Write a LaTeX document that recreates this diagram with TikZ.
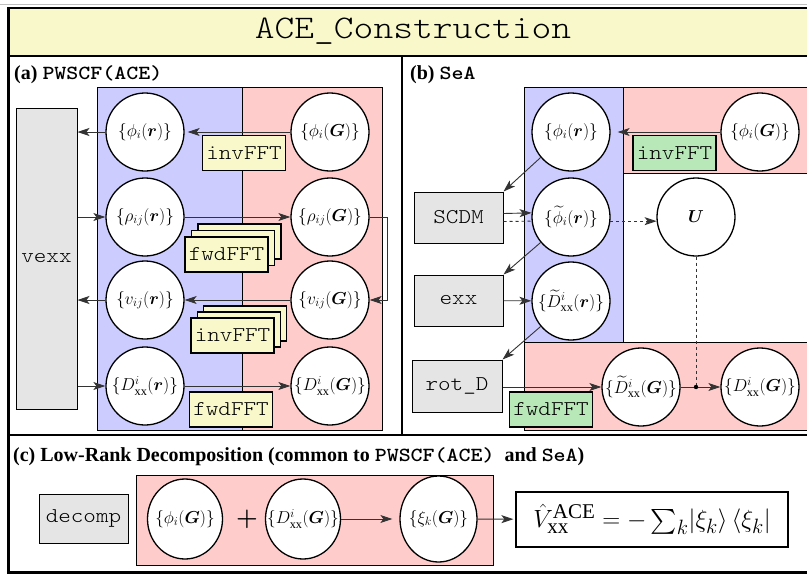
\documentclass[tikz,border=0pt]{standalone}
\usepackage{amsmath,bm}
\usepackage{fontspec}
\setmainfont{Liberation Serif}
\setmonofont{lmmonolt10-regular}[Extension=.otf,FakeStretch=1.14]
\newfontfamily\ttb{lmmonolt10-bold}[Extension=.otf,FakeStretch=1.14]
\usetikzlibrary{arrows.meta,calc,shapes.geometric}
\definecolor{titley}{RGB}{248,248,202}
\definecolor{blueR}{RGB}{204,204,255}
\definecolor{redR}{RGB}{255,204,204}
\definecolor{grayB}{RGB}{229,229,229}
\definecolor{greenB}{RGB}{184,232,184}
\newcommand{\mkz}[1]{\makebox[0pt][c]{#1}}
\newcommand{\tb}[1]{{\ttb #1}}
\begin{document}
\begin{tikzpicture}[x=1pt,y=-1pt,
  frame/.style={line width=2.5pt},
  region/.style={draw=black,line width=1pt},
  circ/.style={circle,draw,fill=white,line width=1.3pt,minimum size=78pt,inner sep=0pt,font=\fontsize{17.5}{20}\selectfont},
  ellc/.style={ellipse,draw,fill=white,line width=1.3pt,minimum width=75pt,minimum height=80pt,inner sep=0pt,font=\fontsize{17.5}{20}\selectfont},
  graybox/.style={draw,fill=grayB,line width=1pt,inner sep=0pt,font=\ttfamily\fontsize{21}{24}\selectfont},
  fftbox/.style={draw,line width=1.2pt,minimum width=83pt,minimum height=35pt,inner sep=0pt,font=\ttfamily\fontsize{21}{24}\selectfont},
  yfft/.style={fftbox,fill=titley},
  gfft/.style={fftbox,fill=greenB},
  arr/.style={-{Stealth[length=12pt,width=8pt,inset=3pt]},line width=0.9pt,draw=black!80},
  plainline/.style={line width=0.9pt,draw=black!80},
  lbl/.style={anchor=base west,inner sep=0pt,font=\bfseries\fontsize{20}{24}\selectfont}
]
\useasboundingbox (0,0) rectangle (807,574);
\clip (0,0) rectangle (807,574);
\fill[white] (0,0) rectangle (807,574);
\draw[black!25,line width=1pt] (0,4) -- (807,4);

% title band and panels
\draw[frame,fill=titley] (8.5,8) rectangle (840,56);
\node[anchor=base,inner sep=0pt,font=\ttfamily\fontsize{33}{36}\selectfont] (title) at (413,38) {ACE\_Construction};
\draw[frame] (8.5,56) rectangle (402,435);
\draw[frame] (402,56) rectangle (840,435);
\draw[frame] (8.5,435) rectangle (840,572.5);

\node[lbl] (la) at (14,79.5) {(a) \tb{PWSCF(ACE)}};
\node[lbl] (lb) at (410,79.5) {(b) \tb{SeA}};
\node[lbl] (lc) at (13,461) {(c) Low-Rank Decomposition (common to \tb{PWSCF(ACE)}~ and \tb{SeA})};

% ---------- panel (a) ----------
\draw[region,fill=blueR] (97,87) rectangle (242,430);
\draw[region,fill=redR] (242,87) rectangle (382,430);
\node[graybox,minimum width=61pt,minimum height=301pt] (vexx) at (46.5,258.5) {vexx};

\node[circ] (phir) at (145,132) {\mkz{$\{\phi_i(\bm{r})\}$}};
\node[circ] (phiG) at (330,132) {\mkz{$\{\phi_i(\bm{G})\}$}};
\node[circ] (rhor) at (145,217) {\mkz{$\{\rho_{ij}(\bm{r})\}$}};
\node[circ] (rhoG) at (330,217) {\mkz{$\{\rho_{ij}(\bm{G})\}$}};
\node[circ] (vr) at (145,300) {\mkz{$\{v_{ij}(\bm{r})\}$}};
\node[circ] (vG) at (330,300) {\mkz{$\{v_{ij}(\bm{G})\}$}};
\node[circ] (Dr) at (145,386) {\mkz{$\{D^i_{\mathrm{xx}}(\bm{r})\}$}};
\node[circ] (DG) at (330,386) {\mkz{$\{D^i_{\mathrm{xx}}(\bm{G})\}$}};

\draw[arr,shorten >=3pt] (phiG) -- (phir);
\draw[arr] (phir.west) -- (phir.west -| vexx.east);
\draw[arr] (rhor.west -| vexx.east) -- (rhor);
\draw[arr] (rhor) -- (rhoG);
\draw[arr] (rhoG.east) -- ++(18,0) |- (vG.east);
\draw[arr] (vG) -- (vr);
\draw[arr] (vr.west) -- (vr.west -| vexx.east);
\draw[arr] (Dr.west -| vexx.east) -- (Dr);
\draw[arr] (Dr) -- (DG);

\node[yfft] (invA) at (244,153) {invFFT};
\node[yfft] (fwdBb) at (239.5,241.5) {};
\node[yfft] (fwdBa) at (233,248) {};
\node[yfft] (fwdB) at (226.5,254.5) {fwdFFT};
\node[yfft] (invCb) at (245,323.5) {};
\node[yfft] (invCa) at (239,329.5) {};
\node[yfft] (invC) at (232.5,335.5) {invFFT};
\node[yfft] (fwdD) at (231,409.5) {fwdFFT};

% ---------- panel (b) ----------
\draw[region,fill=blueR] (524,87) rectangle (623,342);
\draw[region,fill=redR] (623,87) rectangle (840,173);
\draw[region,fill=redR] (524,342) rectangle (840,430);

\node[graybox,minimum width=89pt,minimum height=51pt] (scdm) at (458.5,217.5) {SCDM};
\node[graybox,minimum width=89pt,minimum height=51pt] (exx) at (458.5,300.5) {exx};
\node[graybox,minimum width=90pt,minimum height=52pt] (rotd) at (457,386) {rot\_D};

\node[circ] (phir2) at (571,132) {\mkz{$\{\phi_i(\bm{r})\}$}};
\node[circ] (phiG2) at (760,132) {\mkz{$\{\phi_i(\bm{G})\}$}};
\node[circ] (phit) at (571,217) {\mkz{$\{\widetilde{\phi}_i(\bm{r})\}$}};
\node[circ] (U) at (696,217) {\mkz{$\bm{U}$}};
\node[circ] (Dtr) at (571,301) {\mkz{$\{\widetilde{D}^i_{\mathrm{xx}}(\bm{r})\}$}};
\node[circ] (DtG) at (641,387) {\mkz{$\{\widetilde{D}^i_{\mathrm{xx}}(\bm{G})\}$}};
\node[circ] (DG2) at (760,387) {\mkz{$\{D^i_{\mathrm{xx}}(\bm{G})\}$}};

\draw[arr,shorten >=7pt] (phiG2) -- (phir2);
\draw[arr] (phir2.220) -- (scdm.north east);
\draw[arr] ($(scdm.east)+(0,-4)$) -- (phit.174);
\draw[plainline,dashed] ($(scdm.east)+(0,4)$) -- (phit.186);
\draw[arr,dashed] (phit.354) -- (U.186);
\draw[arr] (phit.220) -- (exx.north east);
\draw[arr] (exx) -- (Dtr);
\draw[arr] (Dtr.220) -- (rotd.north east);
\draw[arr] (rotd.east |- DtG) -- (DtG);
\draw[arr] (DtG) -- (DG2);
\coordinate (dot) at (U |- DtG);
\draw[plainline,dashed] (U.south) -- (dot);
\fill[black] (dot) circle (2.2pt);

\node[gfft] (invG) at (674.5,153) {invFFT};
\node[gfft] (fwdG) at (551,409.5) {fwdFFT};

% ---------- panel (c) ----------
\draw[region,fill=redR] (136,475) rectangle (493,565);
\node[graybox,minimum width=89pt,minimum height=49pt] (decomp) at (83.5,518.5) {decomp};
\node[ellc] (phiGc) at (185,519) {\mkz{$\{\phi_i(\bm{G})\}$}};
\node[inner sep=0pt,font=\fontsize{30}{32}\selectfont] (plus) at (247,519) {$\bm{+}$};
\node[ellc] (DGc) at (303,519) {\mkz{$\{D^i_{\mathrm{xx}}(\bm{G})\}$}};
\node[ellc,minimum width=77pt,minimum height=86pt] (xic) at (438.5,519) {\mkz{$\{\xi_k(\bm{G})\}$}};
\node[draw,fill=white,line width=1.2pt,minimum width=272pt,minimum height=55pt,inner sep=0pt,font=\fontsize{30}{32}\selectfont] (vbox) at (652,519.5)
  {$\hat{V}_{\mathrm{xx}}^{\mathrm{ACE}} = -\sum_k \lvert\xi_k\rangle\,\langle\xi_k\rvert$};
\draw[arr,shorten >=7pt] (DGc) -- (xic);
\draw[arr,shorten >=2pt] (xic) -- (vbox);
\end{tikzpicture}
\end{document}
